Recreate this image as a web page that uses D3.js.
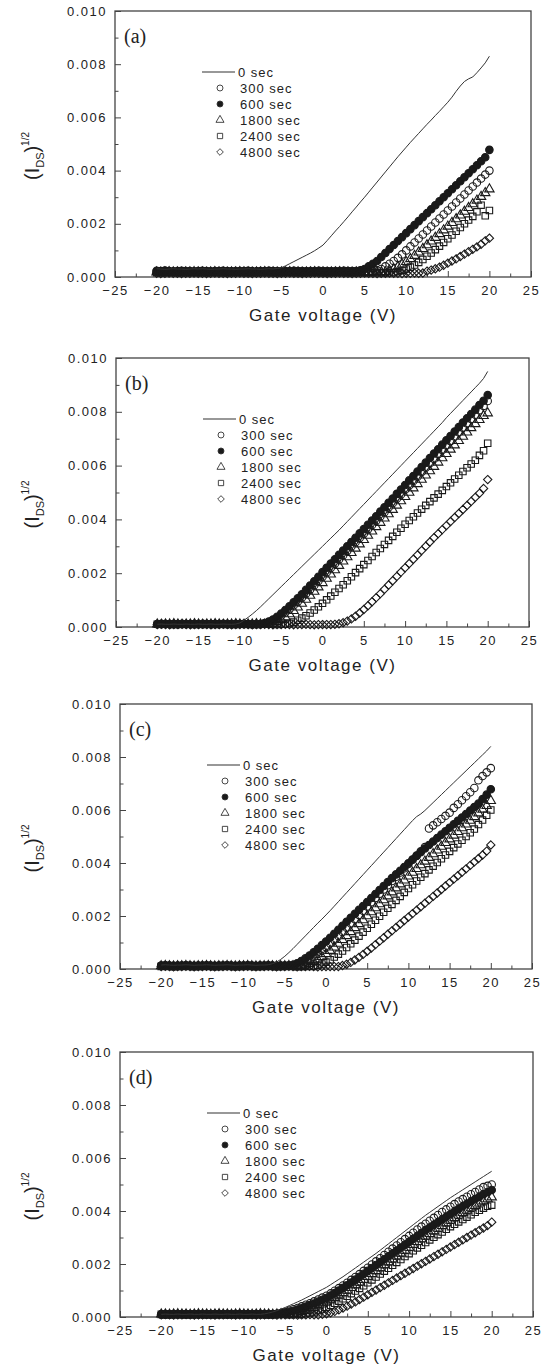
<!DOCTYPE html>
<html>
<head>
<meta charset="utf-8">
<script src="https://cdn.jsdelivr.net/npm/d3@7"></script>
<style>
  body { margin: 0; background: #fff; }
  svg text { font-family: "Liberation Sans", Arial, sans-serif; fill: #222; }
</style>
</head>
<body>
<svg id="chart" width="551" height="1367"></svg>
<script>
// gate voltage sweep (V), shared by every series
const gateVoltage = [-20,-19.5,-19,-18.5,-18,-17.5,-17,-16.5,-16,-15.5,-15,-14.5,-14,-13.5,-13,-12.5,-12,-11.5,-11,-10.5,
  -10,-9.5,-9,-8.5,-8,-7.5,-7,-6.5,-6,-5.5,-5,-4.5,-4,-3.5,-3,-2.5,-2,-1.5,-1,-0.5,
  0,0.5,1,1.5,2,2.5,3,3.5,4,4.5,5,5.5,6,6.5,7,7.5,8,8.5,9,9.5,
  10,10.5,11,11.5,12,12.5,13,13.5,14,14.5,15,15.5,16,16.5,17,17.5,18,18.5,19,19.5,20];

const legendLabels = ['0 sec', '300 sec', '600 sec', '1800 sec', '2400 sec', '4800 sec'];
const panelLabels = ['(a)', '(b)', '(c)', '(d)'];
const xTicks = [-25, -20, -15, -10, -5, 0, 5, 10, 15, 20, 25];
const xMinorTicks = [-22.5, -17.5, -12.5, -7.5, -2.5, 2.5, 7.5, 12.5, 17.5, 22.5];
const yTicks = [0, 0.002, 0.004, 0.006, 0.008, 0.010];
const yMinorTicks = [0.001, 0.003, 0.005, 0.007, 0.009];

// (I_DS)^1/2 values, panel (a)
const a0 = [
  .00031,.0003,.00029,.0003,.00031,.0003,.0003,.00029,.0003,.00031,
  .0003,.00031,.0003,.00029,.0003,.0003,.00031,.0003,.0003,.00029,
  .0003,.0003,.00031,.0003,.0003,.00029,.0003,.00031,.0003,.00032,
  .00035,.00042,.0005,.00058,.00066,.00074,.00082,.0009,.00099,.00109,
  .0012,.00137,.00155,.00173,.0019,.00208,.00226,.00245,.00263,.00282,
  .003,.00319,.00338,.00357,.00376,.00395,.00414,.00433,.00452,.0047,
  .00488,.00506,.00523,.0054,.00557,.00574,.0059,.00607,.00623,.0064,
  .00657,.00676,.00698,.00718,.00735,.00745,.00752,.00768,.00786,.00805,
  .0083];
const a300 = [
  .0002,.00021,.0002,.00019,.0002,.0002,.00021,.0002,.00019,.0002,
  .0002,.0002,.00021,.0002,.0002,.00019,.0002,.0002,.00021,.0002,
  .0002,.00019,.0002,.0002,.00021,.0002,.0002,.00019,.0002,.0002,
  .00021,.0002,.0002,.00019,.0002,.0002,.00021,.0002,.0002,.00019,
  .0002,.0002,.00021,.0002,.0002,.00019,.0002,.0002,.00021,.0002,
  .0002,.0002,.00021,.00025,.0003,.0004,.0005,.0006,.00072,.00085,
  .001,.00115,.0013,.00145,.0016,.00175,.0019,.00205,.0022,.00235,
  .0025,.00265,.0028,.00295,.0031,.00325,.0034,.00355,.0037,.00385,
  .004];
const a600 = [
  .00023,.00022,.00024,.00022,.00021,.00022,.00023,.00022,.00022,.00021,
  .00022,.00023,.00022,.00021,.00022,.00022,.00023,.00022,.00021,.00022,
  .00022,.00022,.00023,.00022,.00021,.00022,.00022,.00023,.00022,.00022,
  .00021,.00022,.00022,.00023,.00022,.00022,.00021,.00022,.00022,.00023,
  .00022,.00022,.00021,.00022,.00022,.00023,.00022,.00022,.00022,.00025,
  .0003,.0004,.0005,.0006,.00075,.0009,.00105,.0012,.00135,.0015,
  .00165,.0018,.00195,.0021,.00225,.0024,.00255,.0027,.00285,.003,
  .00315,.0033,.00345,.0036,.00375,.0039,.00405,.0042,.00435,.0045,
  .00478];
const a1800 = [
  .00018,.00017,.00018,.00019,.00018,.00018,.00017,.00018,.00018,.00019,
  .00018,.00018,.00017,.00018,.00019,.00018,.00018,.00017,.00018,.00018,
  .00019,.00018,.00018,.00017,.00018,.00018,.00019,.00018,.00018,.00017,
  .00018,.00018,.00019,.00018,.00018,.00017,.00018,.00018,.00019,.00018,
  .00018,.00017,.00018,.00018,.00019,.00018,.00018,.00017,.00018,.00018,
  .00018,.00018,.00019,.00018,.00018,.00019,.00025,.0003,.00038,.00047,
  .00057,.00068,.0008,.00093,.00106,.0012,.00134,.00148,.00162,.00176,
  .0019,.00204,.00218,.00232,.00246,.0026,.00274,.00288,.00302,.00316,
  .0033];
const a2400 = [
  .00016,.00015,.00016,.00017,.00016,.00016,.00015,.00016,.00016,.00017,
  .00016,.00016,.00015,.00016,.00017,.00016,.00016,.00015,.00016,.00016,
  .00017,.00016,.00016,.00015,.00016,.00016,.00017,.00016,.00016,.00015,
  .00016,.00016,.00017,.00016,.00016,.00015,.00016,.00016,.00017,.00016,
  .00016,.00015,.00016,.00016,.00017,.00016,.00016,.00015,.00016,.00016,
  .00016,.00016,.00017,.00016,.00016,.00016,.00016,.00017,.0002,.00025,
  .0003,.00037,.00045,.00055,.00066,.00078,.0009,.00103,.00116,.0013,
  .00144,.00158,.00172,.00186,.002,.00214,.00228,.00245,.0027,.0023,
  .0025];
const a4800 = [
  .00014,.00013,.00014,.00015,.00014,.00014,.00013,.00014,.00014,.00015,
  .00014,.00014,.00013,.00014,.00015,.00014,.00014,.00013,.00014,.00014,
  .00015,.00014,.00014,.00013,.00014,.00014,.00015,.00014,.00014,.00013,
  .00014,.00014,.00015,.00014,.00014,.00013,.00014,.00014,.00015,.00014,
  .00014,.00013,.00014,.00014,.00015,.00014,.00014,.00013,.00014,.00014,
  .00015,.00014,.00014,.00013,.00014,.00014,.00015,.00014,.00014,.00013,
  .00014,.00014,.00015,.00014,.00015,.00022,.00026,.00031,.00037,.00044,
  .00052,.0006,.00068,.00077,.00086,.00095,.00104,.00113,.00123,.00136,
  .00146];

// panel (b)
const b0 = [
  .0001,.00011,.0001,.0001,.00011,.0001,.0001,.00011,.0001,.0001,
  .00011,.0001,.0001,.00011,.0001,.0001,.00011,.0001,.0001,.00011,
  .00015,.00025,.00036,.00048,.00061,.00075,.0009,.00105,.0012,.00135,
  .0015,.00165,.0018,.00195,.0021,.00225,.0024,.00255,.0027,.00285,
  .003,.00315,.0033,.00345,.0036,.00376,.00392,.00408,.00424,.0044,
  .00456,.00472,.00488,.00504,.0052,.00536,.00552,.00568,.00584,.006,
  .00616,.00632,.00648,.00664,.0068,.00696,.00712,.00728,.00744,.0076,
  .00778,.00794,.0081,.00826,.00842,.00858,.00874,.0089,.00906,.00924,
  .0095];
const b300 = [
  .0001,.0001,.00011,.0001,.0001,.00009,.0001,.0001,.00011,.0001,
  .0001,.00009,.0001,.0001,.00011,.0001,.0001,.00009,.0001,.0001,
  .00011,.0001,.0001,.00009,.0001,.0001,.00013,.00018,.00025,.00033,
  .00043,.00054,.00066,.0008,.00094,.00109,.00124,.00139,.00155,.00171,
  .00187,.00203,.00219,.00235,.00251,.00267,.00283,.00299,.00315,.00331,
  .00347,.00363,.00379,.00395,.00411,.00427,.00444,.0046,.00477,.00493,
  .0051,.00526,.00543,.00559,.00576,.00592,.00609,.00625,.00642,.00658,
  .00675,.00691,.00708,.00724,.00741,.00757,.00773,.00789,.00806,.00822,
  .0084];
const b600 = [
  .00011,.00012,.00011,.0001,.00011,.00011,.00012,.00011,.0001,.00011,
  .00011,.00012,.00011,.0001,.00011,.00011,.00012,.00011,.0001,.00011,
  .00011,.00012,.00011,.0001,.00011,.00011,.00015,.0002,.00028,.00038,
  .0005,.00063,.00077,.00092,.00107,.00122,.00138,.00154,.0017,.00187,
  .00204,.0022,.00236,.00252,.00268,.00284,.003,.00316,.00332,.00348,
  .00364,.0038,.00396,.00412,.00429,.00445,.00462,.00478,.00495,.00511,
  .00528,.00545,.00561,.00578,.00595,.00611,.00628,.00645,.00661,.00678,
  .00694,.0071,.00727,.00743,.0076,.00776,.00792,.00808,.00825,.00841,
  .00862];
const b1800 = [
  .0001,.00009,.0001,.0001,.00011,.0001,.00009,.0001,.0001,.00011,
  .0001,.00009,.0001,.0001,.00011,.0001,.00009,.0001,.0001,.00011,
  .0001,.00009,.0001,.0001,.00011,.0001,.00009,.0001,.00013,.00019,
  .00027,.00037,.00048,.0006,.00073,.00087,.00102,.00117,.00132,.00148,
  .00164,.0018,.00196,.00212,.00228,.00244,.0026,.00276,.00292,.00308,
  .00324,.0034,.00356,.00372,.00388,.00404,.0042,.00436,.00452,.00468,
  .00484,.005,.00516,.00532,.00548,.00564,.0058,.00596,.00612,.00628,
  .00644,.0066,.00676,.00692,.00708,.00724,.0074,.00755,.0077,.00785,
  .00795];
const b2400 = [
  .0001,.0001,.00011,.0001,.00009,.0001,.0001,.00011,.0001,.00009,
  .0001,.0001,.00011,.0001,.00009,.0001,.0001,.00011,.0001,.00009,
  .0001,.0001,.00011,.0001,.00009,.0001,.0001,.00011,.0001,.00009,
  .0001,.0001,.00013,.00018,.00025,.00033,.00042,.00052,.00063,.00075,
  .00088,.00101,.00115,.00129,.00143,.00157,.00172,.00187,.00202,.00217,
  .00232,.00247,.00262,.00277,.00292,.00307,.00322,.00337,.00352,.00367,
  .00382,.00396,.0041,.00424,.00438,.00452,.00466,.0048,.00494,.00508,
  .00522,.00536,.0055,.00564,.00578,.00592,.00606,.0062,.00638,.00655,
  .00683];
const b4800 = [
  .00009,.0001,.00009,.00008,.00009,.00009,.0001,.00009,.00008,.00009,
  .00009,.0001,.00009,.00008,.00009,.00009,.0001,.00009,.00008,.00009,
  .00009,.0001,.00009,.00008,.00009,.00009,.0001,.00009,.00008,.00009,
  .00009,.0001,.00009,.00008,.00009,.00009,.0001,.00009,.00008,.00009,
  .00009,.00009,.00009,.0001,.00012,.00016,.00022,.0003,.0004,.00052,
  .00065,.00079,.00094,.00109,.00124,.0014,.00156,.00172,.00188,.00204,
  .0022,.00236,.00252,.00268,.00284,.003,.00316,.00332,.00347,.00362,
  .00377,.00392,.00407,.00422,.00437,.00452,.00467,.00482,.00497,.00515,
  .00548];

// panel (c)
const c0 = [
  .00015,.00016,.00015,.00014,.00015,.00015,.00016,.00015,.00014,.00015,
  .00015,.00016,.00015,.00014,.00015,.00015,.00016,.00015,.00014,.00015,
  .00015,.00016,.00015,.00014,.00015,.00015,.00016,.0002,.00026,.00036,
  .00048,.00062,.00077,.00093,.00109,.00125,.00141,.00157,.00173,.00188,
  .00204,.0022,.00237,.00254,.00271,.00288,.00305,.00322,.00339,.00356,
  .00373,.0039,.00407,.00424,.00441,.00458,.00475,.00492,.00509,.00526,
  .00543,.0056,.00575,.00585,.00598,.00613,.00628,.00643,.00658,.00673,
  .00688,.00703,.00718,.00733,.00748,.00763,.00778,.00793,.00808,.00823,
  .0084];
const c300 = [
  .00012,.00013,.00012,.00011,.00012,.00012,.00013,.00012,.00011,.00012,
  .00012,.00013,.00012,.00011,.00012,.00012,.00013,.00012,.00011,.00012,
  .00012,.00013,.00012,.00011,.00012,.00012,.00013,.00012,.00011,.00012,
  .00012,.00013,.00012,.00015,.0002,.00027,.00036,.00046,.00057,.00069,
  .00082,.00096,.0011,.00125,.0014,.00156,.00172,.00188,.00204,.0022,
  .00236,.00252,.00268,.00284,.003,.00316,.00332,.00348,.00364,.0038,
  .00396,.00412,.00428,.00444,.0046,.0053,.00542,.00554,.00566,.00578,
  .0059,.00608,.00622,.00637,.00652,.00667,.00683,.00712,.00728,.00742,
  .00758];
const c600 = [
  .00013,.00014,.00013,.00012,.00013,.00013,.00014,.00013,.00012,.00013,
  .00013,.00014,.00013,.00012,.00013,.00013,.00014,.00013,.00012,.00013,
  .00013,.00014,.00013,.00012,.00013,.00013,.00014,.00013,.00012,.00013,
  .00013,.00013,.00016,.00022,.0003,.0004,.00051,.00063,.00076,.0009,
  .00104,.00118,.00133,.00148,.00163,.00178,.00193,.00208,.00223,.00238,
  .00253,.00268,.00283,.00298,.00313,.00328,.00343,.00357,.00371,.00385,
  .00399,.00413,.00427,.00441,.00455,.00468,.00481,.00494,.00507,.0052,
  .00533,.00546,.00559,.00572,.00585,.00598,.00611,.00624,.00641,.00658,
  .00678];
const c1800 = [
  .00011,.00012,.00011,.0001,.00011,.00011,.00012,.00011,.0001,.00011,
  .00011,.00012,.00011,.0001,.00011,.00011,.00012,.00011,.0001,.00011,
  .00011,.00012,.00011,.0001,.00011,.00011,.00012,.00011,.0001,.00011,
  .00011,.00012,.00011,.0001,.00011,.00015,.0002,.00027,.00036,.00046,
  .00057,.00069,.00082,.00096,.0011,.00125,.0014,.00155,.0017,.00185,
  .002,.00215,.0023,.00245,.0026,.00275,.0029,.00305,.0032,.00335,
  .0035,.00364,.00378,.00392,.00406,.0042,.00434,.00448,.00462,.00476,
  .0049,.00504,.00518,.00532,.00546,.0056,.00574,.00588,.00602,.00616,
  .00635];
const c2400 = [
  .0001,.00011,.0001,.00009,.0001,.0001,.00011,.0001,.00009,.0001,
  .0001,.00011,.0001,.00009,.0001,.0001,.00011,.0001,.00009,.0001,
  .0001,.00011,.0001,.00009,.0001,.0001,.00011,.0001,.00009,.0001,
  .0001,.00011,.0001,.00009,.0001,.0001,.00011,.0001,.00014,.00019,
  .00026,.00035,.00045,.00056,.00068,.00081,.00095,.00109,.00124,.00139,
  .00154,.00169,.00184,.00199,.00214,.00229,.00244,.00259,.00274,.00289,
  .00304,.00318,.00332,.00346,.0036,.00374,.00388,.00402,.00416,.0043,
  .00444,.00458,.00472,.00486,.005,.00514,.00528,.00545,.00562,.0058,
  .006];
const c4800 = [
  .00009,.0001,.00009,.00008,.00009,.00009,.0001,.00009,.00008,.00009,
  .00009,.0001,.00009,.00008,.00009,.00009,.0001,.00009,.00008,.00009,
  .00009,.0001,.00009,.00008,.00009,.00009,.0001,.00009,.00008,.00009,
  .00009,.0001,.00009,.00008,.00009,.00009,.0001,.00009,.00008,.00009,
  .00009,.00009,.00009,.00009,.00013,.00018,.00025,.00034,.00044,.00055,
  .00067,.00079,.00092,.00105,.00118,.00131,.00144,.00157,.0017,.00183,
  .00196,.00209,.00222,.00235,.00248,.00261,.00274,.00287,.003,.00313,
  .00326,.00339,.00352,.00365,.00378,.00391,.00404,.00417,.0043,.00445,
  .00468];

// panel (d)
const d0 = [
  .0001,.00011,.0001,.0001,.00011,.0001,.0001,.00011,.0001,.0001,
  .00011,.0001,.0001,.00011,.0001,.0001,.00011,.0001,.0001,.00011,
  .0001,.0001,.00011,.0001,.0001,.00012,.00015,.00019,.00024,.0003,
  .00036,.00043,.0005,.00057,.00064,.00072,.0008,.00088,.00096,.00104,
  .00112,.00122,.00132,.00142,.00152,.00163,.00174,.00185,.00196,.00207,
  .00218,.00229,.0024,.00252,.00264,.00276,.00288,.003,.00312,.00324,
  .00336,.00348,.0036,.00372,.00384,.00395,.00406,.00417,.00428,.00439,
  .0045,.0046,.0047,.0048,.0049,.005,.0051,.0052,.0053,.0054,
  .0055];
const d300 = [
  .0001,.00009,.0001,.00011,.0001,.0001,.00009,.0001,.00011,.0001,
  .0001,.00009,.0001,.00011,.0001,.0001,.00009,.0001,.00011,.0001,
  .0001,.00009,.0001,.00011,.0001,.0001,.00009,.0001,.00012,.00015,
  .00019,.00024,.00029,.00034,.0004,.00046,.00052,.00059,.00066,.00073,
  .0008,.00089,.00099,.00109,.00119,.00129,.0014,.00151,.00162,.00174,
  .00186,.00198,.0021,.00222,.00234,.00246,.00258,.0027,.00282,.00294,
  .00306,.00318,.0033,.00341,.00352,.00363,.00374,.00385,.00396,.00406,
  .00416,.00426,.00436,.00445,.00454,.00463,.00472,.00481,.0049,.00495,
  .005];
const d600 = [
  .0001,.00011,.0001,.00009,.0001,.0001,.00011,.0001,.00009,.0001,
  .0001,.00011,.0001,.00009,.0001,.0001,.00011,.0001,.00009,.0001,
  .0001,.00011,.0001,.00009,.0001,.0001,.00011,.0001,.0001,.00012,
  .00015,.00019,.00023,.00028,.00033,.00039,.00045,.00051,.00058,.00065,
  .00072,.00081,.0009,.001,.0011,.0012,.0013,.00141,.00152,.00163,
  .00174,.00185,.00196,.00207,.00218,.00229,.0024,.00251,.00262,.00273,
  .00284,.00295,.00306,.00317,.00328,.00338,.00348,.00358,.00368,.00378,
  .00388,.00398,.00408,.00418,.00427,.00436,.00445,.00454,.00463,.00471,
  .00479];
const d1800 = [
  .0001,.0001,.00009,.0001,.00011,.0001,.0001,.00009,.0001,.00011,
  .0001,.0001,.00009,.0001,.00011,.0001,.0001,.00009,.0001,.00011,
  .0001,.0001,.00009,.0001,.00011,.0001,.0001,.00009,.0001,.00011,
  .0001,.0001,.00012,.00015,.00019,.00024,.00029,.00035,.00041,.00048,
  .00055,.00063,.00072,.00081,.0009,.001,.0011,.0012,.0013,.00141,
  .00152,.00163,.00174,.00185,.00196,.00207,.00218,.00229,.0024,.00251,
  .00262,.00273,.00284,.00294,.00304,.00314,.00324,.00334,.00344,.00354,
  .00364,.00374,.00384,.00393,.00402,.00411,.0042,.00429,.00437,.00445,
  .00452];
const d2400 = [
  .0001,.00009,.0001,.0001,.00011,.0001,.00009,.0001,.0001,.00011,
  .0001,.00009,.0001,.0001,.00011,.0001,.00009,.0001,.0001,.00011,
  .0001,.00009,.0001,.0001,.00011,.0001,.00009,.0001,.0001,.00011,
  .0001,.00009,.0001,.0001,.0001,.00012,.00015,.00019,.00024,.0003,
  .00037,.00044,.00052,.0006,.00069,.00078,.00088,.00098,.00108,.00118,
  .00129,.0014,.00151,.00162,.00173,.00184,.00195,.00206,.00217,.00228,
  .00239,.0025,.00261,.00271,.00281,.00291,.00301,.00311,.00321,.00331,
  .00341,.0035,.00359,.00368,.00377,.00386,.00395,.00403,.00411,.00418,
  .00422];
const d4800 = [
  .00008,.00009,.00008,.00007,.00008,.00008,.00009,.00008,.00007,.00008,
  .00008,.00009,.00008,.00007,.00008,.00008,.00009,.00008,.00007,.00008,
  .00008,.00009,.00008,.00007,.00008,.00008,.00009,.00008,.00007,.00008,
  .00008,.00009,.00008,.00007,.00008,.00008,.00009,.00008,.00008,.0001,
  .00012,.00016,.00021,.00027,.00034,.00041,.00049,.00057,.00066,.00075,
  .00084,.00093,.00102,.00111,.0012,.00129,.00138,.00147,.00156,.00165,
  .00174,.00183,.00192,.00201,.0021,.00219,.00228,.00237,.00246,.00255,
  .00264,.00273,.00282,.00291,.003,.00309,.00318,.00327,.00336,.00345,
  .00358];

const panelSeries = [
  [a0, a300, a600, a1800, a2400, a4800],
  [b0, b300, b600, b1800, b2400, b4800],
  [c0, c300, c600, c1800, c2400, c4800],
  [d0, d300, d600, d1800, d2400, d4800]
];

// marker style per series (index 0 is the plain line)
const markerStyles = [
  null,
  { type: d3.symbolCircle, fill: 'none', size: 44 },
  { type: d3.symbolCircle, fill: '#1a1a1a', size: 44 },
  { type: d3.symbolTriangle, fill: 'none', size: 38 },
  { type: d3.symbolSquare, fill: 'none', size: 42 },
  { type: d3.symbolDiamond2 || d3.symbolDiamond, fill: 'none', size: 44 }
];

class TransferPlot {

  constructor(_config, _series) {
    this.config = {
      parentElement: _config.parentElement,
      left: _config.left,
      top: _config.top,
      width: _config.width,
      height: _config.height,
      label: _config.label
    };
    this.series = _series;
    this.initVis();
  }

  initVis() {
    let vis = this;

    vis.width = vis.config.width;
    vis.height = vis.config.height;

    vis.chart = d3.select(vis.config.parentElement).append('g')
      .attr('transform', `translate(${vis.config.left},${vis.config.top})`);

    vis.xScale = d3.scaleLinear().domain([-25, 25]).range([0, vis.width]);
    vis.yScale = d3.scaleLinear().domain([0, 0.01]).range([vis.height, 0]);

    // axes: ticks point inward, Origin style
    vis.chart.append('g')
      .attr('transform', `translate(0,${vis.height})`)
      .call(d3.axisBottom(vis.xScale).tickValues(xTicks).tickSize(-6).tickPadding(9).tickFormat(d3.format('d')))
      .call(g => g.select('.domain').remove());
    vis.chart.append('g')
      .attr('transform', `translate(0,${vis.height})`)
      .call(d3.axisBottom(vis.xScale).tickValues(xMinorTicks).tickSize(-3.5).tickFormat(''))
      .call(g => g.select('.domain').remove());
    vis.chart.append('g')
      .call(d3.axisLeft(vis.yScale).tickValues(yTicks).tickSize(-6).tickPadding(8).tickFormat(d3.format('.3f')))
      .call(g => g.select('.domain').remove());
    vis.chart.append('g')
      .call(d3.axisLeft(vis.yScale).tickValues(yMinorTicks).tickSize(-3.5).tickFormat(''))
      .call(g => g.select('.domain').remove());

    vis.chart.selectAll('.tick line').attr('stroke', '#444');
    vis.chart.selectAll('.tick text')
      .attr('font-size', 13)
      .attr('fill', '#222')
      .style('font-family', '"Liberation Sans", Arial, sans-serif')
      .style('letter-spacing', '1.5px');

    vis.chart.append('rect')
      .attr('width', vis.width)
      .attr('height', vis.height)
      .attr('fill', 'none')
      .attr('stroke', '#444')
      .attr('stroke-width', 1.3);

    // markers
    vis.series.forEach((values, i) => {
      const style = markerStyles[i];
      if (!style) return;
      const sym = d3.symbol().type(style.type).size(style.size);
      vis.chart.append('g')
        .selectAll('path')
        .data(d3.zip(gateVoltage, values))
        .join('path')
          .attr('transform', d => `translate(${vis.xScale(d[0])},${vis.yScale(d[1])})`)
          .attr('d', sym)
          .attr('fill', style.fill)
          .attr('stroke', '#1a1a1a')
          .attr('stroke-width', 1.1);
    });

    // 0 sec line
    vis.line = d3.line()
      .x(d => vis.xScale(d[0]))
      .y(d => vis.yScale(d[1]));
    vis.chart.append('path')
      .datum(d3.zip(gateVoltage, vis.series[0]))
      .attr('d', vis.line)
      .attr('fill', 'none')
      .attr('stroke', '#333')
      .attr('stroke-width', 1);

    // panel label
    vis.chart.append('text')
      .attr('x', 9)
      .attr('y', 32)
      .attr('font-size', 20)
      .style('font-family', '"Liberation Serif", "Times New Roman", serif')
      .text(vis.config.label);

    // legend
    const legend = vis.chart.append('g').attr('transform', 'translate(87,61)');
    legendLabels.forEach((lab, i) => {
      const row = legend.append('g').attr('transform', `translate(0,${i * 16})`);
      const style = markerStyles[i];
      if (!style) {
        row.append('line').attr('x1', 0).attr('x2', 33)
          .attr('stroke', '#333').attr('stroke-width', 1.2);
      } else {
        row.append('path')
          .attr('transform', 'translate(18,0)')
          .attr('d', d3.symbol().type(style.type).size(28))
          .attr('fill', style.fill)
          .attr('stroke', '#333')
          .attr('stroke-width', 0.9);
      }
      row.append('text')
        .attr('x', style ? 38 : 36)
        .attr('dy', '0.35em')
        .attr('font-size', 13)
        .style('letter-spacing', '1px')
        .text(lab);
    });

    // axis titles
    vis.chart.append('text')
      .attr('x', vis.width / 2)
      .attr('y', vis.height + 44)
      .attr('text-anchor', 'middle')
      .attr('font-size', 17)
      .style('letter-spacing', '1.5px')
      .text('Gate voltage (V)');

    const yTitle = vis.chart.append('text')
      .attr('transform', `translate(${32 - vis.config.left + 7},${vis.height / 2 + 12}) rotate(-90)`)
      .attr('text-anchor', 'middle')
      .attr('font-size', 20);
    yTitle.append('tspan').text('(I');
    yTitle.append('tspan').attr('font-size', 11).attr('dy', 5).text('DS');
    yTitle.append('tspan').attr('dy', -5).text(')');
    yTitle.append('tspan').attr('font-size', 10).attr('dy', -10).text('1/2');
  }
}

const panelFrames = [
  { left: 115, top: 11, width: 416, height: 266 },
  { left: 116, top: 358, width: 413, height: 269 },
  { left: 120, top: 704, width: 412, height: 265 },
  { left: 120, top: 1052, width: 413, height: 265 }
];

panelFrames.forEach((frame, i) => {
  new TransferPlot(Object.assign({ parentElement: '#chart', label: panelLabels[i] }, frame), panelSeries[i]);
});
</script>
</body>
</html>
